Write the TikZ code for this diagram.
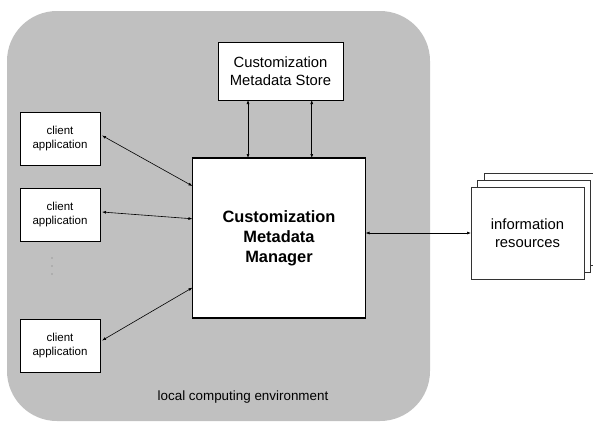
\documentclass[tikz,border=0pt]{standalone}
\usepackage{fontspec}
\setmainfont{Liberation Sans}
\usetikzlibrary{calc,arrows.meta}
\definecolor{envgray}{RGB}{192,192,192}

\begin{document}
\begin{tikzpicture}[x=1pt,y=-1pt,every node/.style={outer sep=0pt,inner sep=0pt,align=center}]
\tikzstyle{box}=[draw,fill=white,thick]
\tikzstyle{client}=[box,minimum width=80pt,minimum height=53pt,font=\fontsize{11.5}{14}\selectfont]
\tikzstyle{sheet}=[box,draw=black!80,minimum width=113pt,minimum height=92pt,anchor=north west]
\tikzstyle{conn}=[semithick,{Latex[length=4pt,width=3pt]}-{Latex[length=4pt,width=3pt]}]
\tikzstyle{vdot}=[fill=black!55,circle,minimum size=1.3pt]

\useasboundingbox (0,0) rectangle (593,421);

% local computing environment
\node (env) [fill=envgray,rounded corners=50pt,minimum width=423pt,minimum height=410pt,anchor=north west] at (7,11) {};
\node (envlabel) [font=\fontsize{13.4}{16}\selectfont] at (243,397) {local computing environment};

\node (store) [box,minimum width=125pt,minimum height=58pt,font=\fontsize{14.8}{18}\selectfont] at (280.5,71) {Customization\\Metadata Store};
\node (mgr) [box,line width=1.4pt,minimum width=173pt,minimum height=160pt,font=\bfseries\fontsize{16.4}{20}\selectfont] at (279,238) {Customization\\Metadata\\Manager};

\node (cl1) [client] at (60,138.5) {client\\application};
\node (cl2) [client] at (60,215) {client\\application};
\node (cl3) [client] at (60,345.5) {client\\application};

\node (d1) [vdot] at (52,258) {};
\node (d2) [vdot] at (52,266) {};
\node (d3) [vdot] at (52,274) {};

% stacked information resources
\node (sheet3) [sheet] at (484,173) {};
\node (sheet2) [sheet] at (477,180) {};
\node (info) [sheet,font=\fontsize{14.8}{18}\selectfont] at (471,187) {information\\resources};

\draw [conn] ($(cl1.east)+(2,-3)$) -- ($(mgr.north west)!0.175!(mgr.south west)$);
\draw [conn] ($(cl2.east)+(2,-3)$) -- ($(mgr.north west)!0.38!(mgr.south west)$);
\draw [conn] ($(cl3.east)+(2,-5)$) -- ($(mgr.north west)!0.81!(mgr.south west)$);

\draw [conn] ($(store.south west)!0.24!(store.south east)$) coordinate (s1) -- (s1 |- mgr.north);
\draw [conn] ($(store.south west)!0.75!(store.south east)$) coordinate (s2) -- (s2 |- mgr.north);

\draw [conn] (info.west -| mgr.east) -- (info.west);
\end{tikzpicture}
\end{document}
